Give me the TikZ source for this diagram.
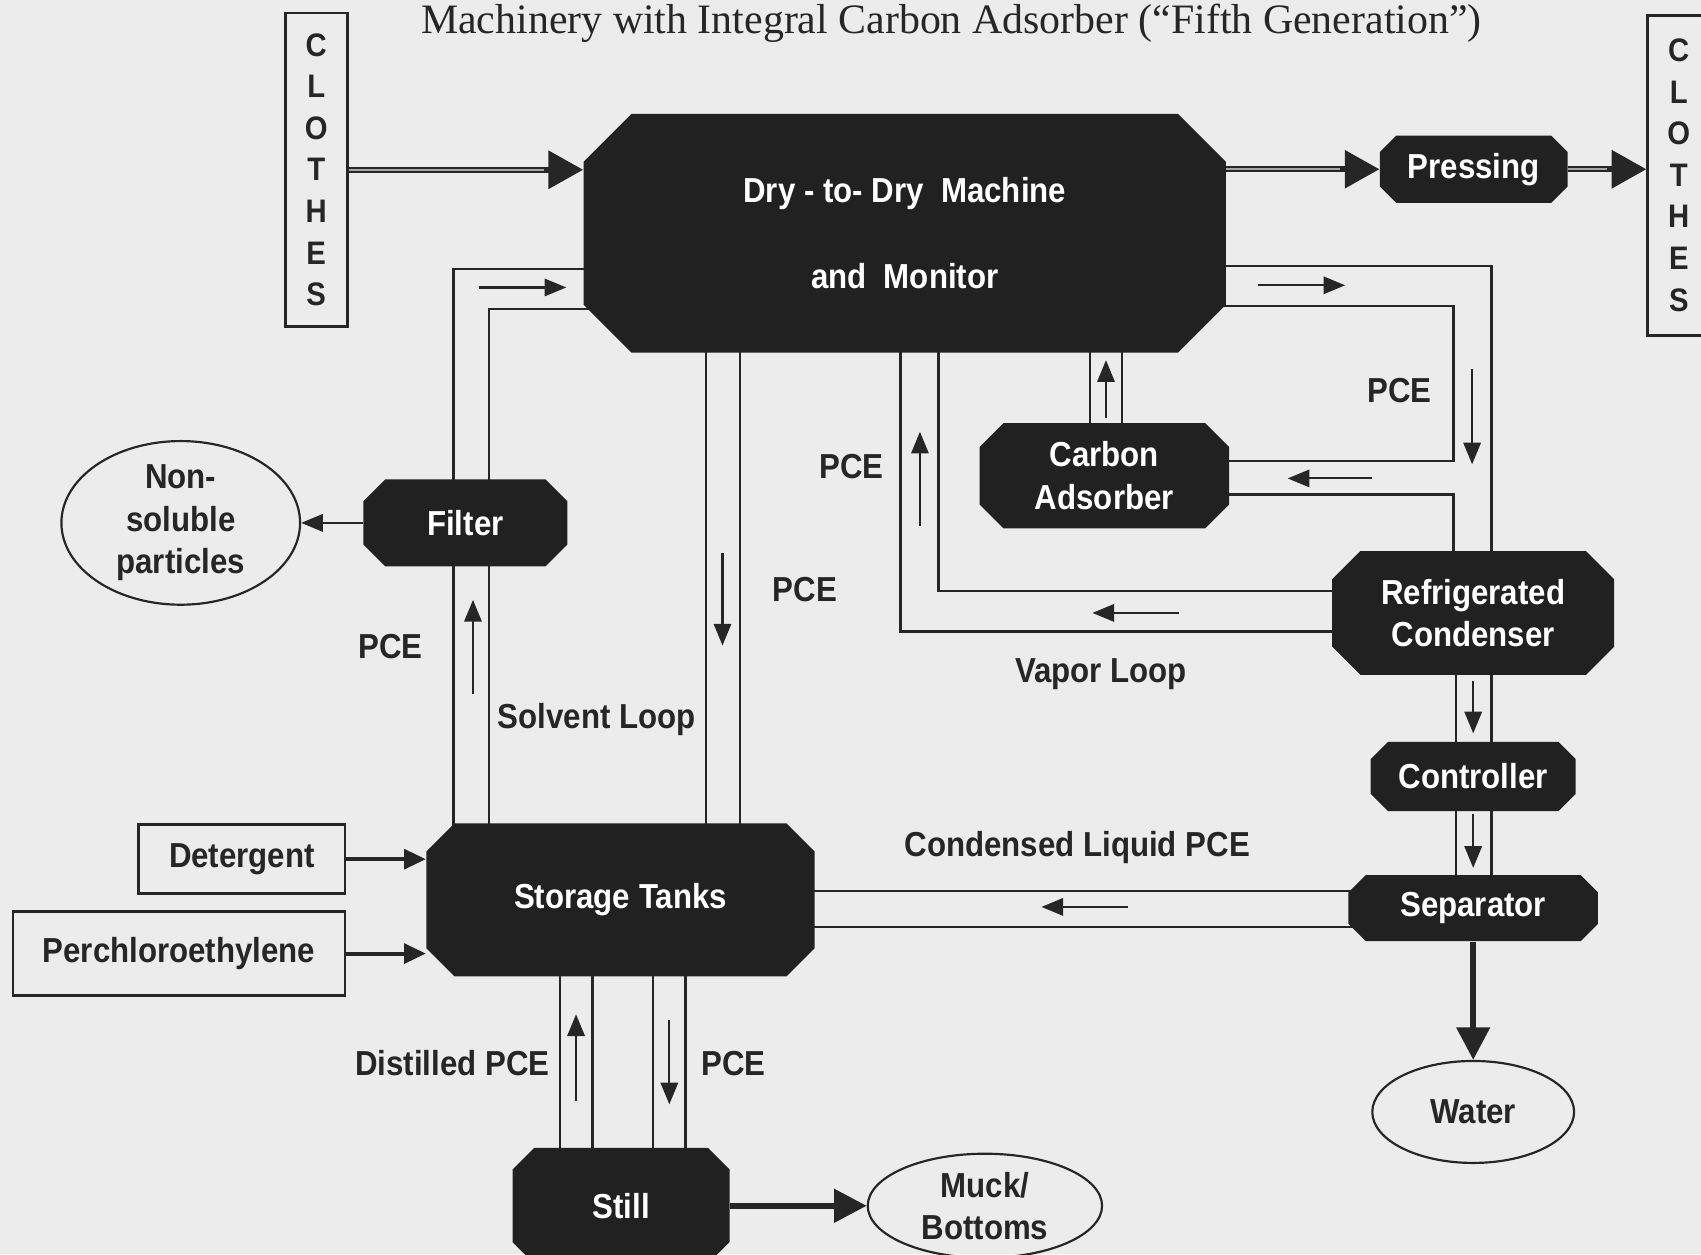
\documentclass[tikz,border=0pt]{standalone}
\usepackage{fontspec}
\setmainfont{Liberation Serif}
\newfontfamily\chartsans[FakeStretch=0.9]{Liberation Sans}
\usetikzlibrary{arrows.meta,positioning,shapes.geometric}

\definecolor{paper}{gray}{0.925}
\definecolor{ink}{gray}{0.15}
\definecolor{vesselfill}{gray}{0.13}

\pgfdeclarelayer{paperlayer}
\pgfdeclarelayer{pipelayer}
\pgfsetlayers{paperlayer,pipelayer,main}

\newcommand{\chartfont}{\chartsans\bfseries\fontsize{16}{19.5}\selectfont}

\begin{document}
\begin{tikzpicture}[x=0.5pt, y=-0.5pt,
  vessel/.style={text=white, font=\chartfont, align=center, inner sep=0pt,
    path picture={\fill[vesselfill]
      ([xshift=#1]path picture bounding box.north west) --
      ([xshift=-#1]path picture bounding box.north east) --
      ([yshift=-#1]path picture bounding box.north east) --
      ([yshift=#1]path picture bounding box.south east) --
      ([xshift=-#1]path picture bounding box.south east) --
      ([xshift=#1]path picture bounding box.south west) --
      ([yshift=#1]path picture bounding box.south west) --
      ([yshift=-#1]path picture bounding box.north west) -- cycle;}},
  feed/.style={draw=ink, line width=1.3pt, text=ink, font=\chartfont, inner sep=0pt},
  letters/.style={feed, align=center, font=\chartsans\bfseries\fontsize{15}{19.15}\selectfont},
  sink/.style={ellipse, draw=ink, line width=1pt, text=ink, font=\chartfont, align=center, inner sep=0pt},
  tag/.style={text=ink, font=\chartfont},
  pipe/.style={draw=ink, line width=1.1pt},
  flow/.style={draw=ink, line width=1pt, -{Triangle[length=10pt,width=8pt]}},
  feedarrow/.style={draw=ink, line width=1.8pt, -{Triangle[length=10pt,width=9pt]}},
  heavy/.style={draw=ink, line width=2.8pt, -{Triangle[length=15pt,width=15pt]}},
  conveyor/.style={draw=ink, line width=3pt, -{Triangle[length=16pt,width=17pt]},
    postaction={draw=black!35, line width=0.7pt, -, shorten >=18pt}}]

\begin{pgfonlayer}{paperlayer}
\fill[paper] (0,0) rectangle (1568,1156);
\end{pgfonlayer}
\useasboundingbox (0,0) rectangle (1568,1156);

\node[text=ink, font=\fontsize{19.3}{22}\selectfont, anchor=base] (title) at (877,31)
  {Machinery with Integral Carbon Adsorber (“Fifth Generation”)};

% units
\node[vessel=22pt, minimum width=296pt, minimum height=110pt] (machine) at (834,215)
  {Dry - to- Dry\ \ Machine\\[20pt]and\ \ Monitor};
\node[vessel=7.5pt, minimum width=86.5pt, minimum height=31pt] (pressing) at (1358.5,156) {Pressing};
\node[letters, minimum width=28.5pt, minimum height=144.5pt] (clothesL) at (291.5,156.5) {C\\L\\O\\T\\H\\E\\S};
\node[letters, minimum width=28.5pt, minimum height=147.5pt] (clothesR) at (1547.5,161.5) {C\\L\\O\\T\\H\\E\\S};
\node[vessel=10pt, minimum width=94pt, minimum height=40pt] (filter) at (429,482) {Filter};
\node[sink, minimum width=110pt, minimum height=65pt, left=28.5pt of filter] (nonsol) {Non-\\soluble\\particles};
\node[vessel=13pt, minimum width=179pt, minimum height=70.5pt] (storage) at (572,829.5) {Storage Tanks};
\node[feed, minimum width=95pt, minimum height=32pt] (detergent) at (223,792) {Detergent};
\node[feed, minimum width=153pt, minimum height=39pt] (perc) at (165,879) {Perchloroethylene};
\node[vessel=10pt, minimum width=100pt, minimum height=53.5pt] (still) at (572.5,1111.5) {Still};
\node[sink, minimum width=108pt, minimum height=48pt, right=63pt of still] (muck) {Muck/\\Bottoms};
\node[vessel=11pt, minimum width=115pt, minimum height=48.5pt] (carbon) at (1018,438.5) {Carbon\\Adsorber};
\node[vessel=13pt, minimum width=130pt, minimum height=57pt] (condenser) at (1358,565) {Refrigerated\\Condenser};
\node[vessel=8pt, minimum width=94.5pt, minimum height=32pt, below=30.5pt of condenser] (controller) {Controller};
\node[vessel=8pt, minimum width=115pt, minimum height=30.5pt, below=29pt of controller] (separator) {Separator};
\node[sink, minimum width=93pt, minimum height=47pt, below=54.5pt of separator] (water) {Water};

% labels
\node[tag] (pceA) at (360,596) {PCE};
\node[tag] (solvent) at (550,663) {Solvent Loop};
\node[tag] (pceB) at (742,543) {PCE};
\node[tag] (pceC) at (785,430) {PCE};
\node[tag] (vapor) at (1015,621) {Vapor Loop};
\node[tag] (pceD) at (1290,360) {PCE};
\node[tag] (condensed) at (993,781) {Condensed Liquid PCE};
\node[tag] (distilled) at (417,980) {Distilled PCE};
\node[tag] (pceE) at (676,980) {PCE};

% pipes, behind the units
\begin{pgfonlayer}{pipelayer}
\draw[pipe] (machine.center) ++(0,33) -| ([xshift=-77pt]storage.center);
\draw[pipe] (machine.center) ++(0,70) -| ([xshift=-60.5pt]storage.center);
\foreach \dx in {39.5pt,55pt} {
  \coordinate (t) at ([xshift=\dx]storage.center);
  \draw[pipe] (t) -- (t |- machine);
}
\foreach \dx in {-28pt,-13pt,15pt,30pt} {
  \coordinate (t) at ([xshift=\dx]storage.center);
  \draw[pipe] (t) -- (t |- still);
}
\draw[pipe] (condenser.center) ++(0,-20) -| ([xshift=15.5pt]machine.center);
\draw[pipe] (condenser.center) ++(0,17) -| ([xshift=-2pt]machine.center);
\foreach \dx in {-6.5pt,8pt} {
  \coordinate (t) at ([xshift=\dx]carbon.center);
  \draw[pipe] (t) -- (t |- machine);
}
\coordinate (rin) at ([xshift=-9pt]condenser.center);
\coordinate (cin) at ([yshift=6.75pt]carbon.center);
\draw[pipe] (machine.center) ++(0,30) -| ([xshift=8.5pt]condenser.center);
\draw[pipe] (machine.center) ++(0,67) -| (cin -| rin) -- (cin);
\draw[pipe] ([yshift=-8.75pt]carbon.center) -| (rin);
\foreach \dx in {-8pt,8.5pt} {
  \coordinate (t) at ([xshift=\dx]condenser.center);
  \draw[pipe] (t) -- (t |- separator);
}
\foreach \dy in {7.75pt,-8.75pt} {
  \coordinate (t) at ([yshift=\dy]separator.center);
  \draw[pipe] (t) -- (t -| storage);
}
\end{pgfonlayer}

% clothes path
\draw[conveyor] (clothesL.east) -- (clothesL.east -| machine.west);
\draw[conveyor] (pressing.west -| machine.east) -- (pressing.west);
\draw[conveyor] (pressing.east) -- (pressing.east -| clothesR.west);

% outputs and feeds
\draw[heavy] (separator) -- (water);
\draw[heavy] (still) -- (muck);
\draw[flow] (filter) -- (nonsol);
\draw[feedarrow] (detergent) -- (detergent -| storage.west);
\draw[feedarrow] (perc) -- (perc -| storage.west);

% flow direction marks
\draw[flow] (442,265) -- (522,265);
\draw[flow] (436,640) -- (436,553);
\draw[flow] (666,510) -- (666,595);
\draw[flow] (848,485) -- (848,398);
\draw[flow] (1087,565) -- (1007,565);
\draw[flow] (1019.5,385) -- (1019.5,332);
\draw[flow] (1160,263) -- (1240,263);
\draw[flow] (1357,340) -- (1357,428);
\draw[flow] (1265,441) -- (1187,441);
\draw[flow] (1358,628) -- (1358,676);
\draw[flow] (1358,750) -- (1358,800);
\draw[flow] (1040,836) -- (960,836);
\draw[flow] (531,1015) -- (531,935);
\draw[flow] (617,940) -- (617,1018);
\end{tikzpicture}
\end{document}
